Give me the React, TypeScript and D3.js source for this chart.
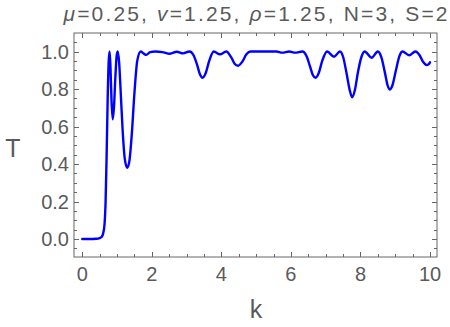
import React, { useEffect } from 'react';
import * as d3 from 'd3';

// curve (k -> T)
const kValues = [
  0, 0.2, 0.4, 0.5, 0.56, 0.6, 0.64, 0.67, 0.7, 0.73, 0.76, 0.785,
  0.81, 0.84, 0.875, 0.91, 0.95, 0.99, 1.02, 1.06, 1.1, 1.16, 1.22, 1.29,
  1.35, 1.42, 1.5, 1.58, 1.68, 1.76, 1.84, 1.95, 2.1, 2.3, 2.52, 2.72,
  2.9, 3.08, 3.2, 3.3, 3.38, 3.46, 3.55, 3.65, 3.78, 3.96, 4.14, 4.28,
  4.38, 4.48, 4.6, 4.72, 4.84, 5.2, 5.58, 5.75, 5.95, 6.12, 6.33, 6.45,
  6.55, 6.63, 6.71, 6.8, 6.9, 7.04, 7.24, 7.41, 7.5, 7.6, 7.69, 7.76,
  7.84, 7.93, 8.03, 8.12, 8.32, 8.5, 8.6, 8.7, 8.78, 8.84, 8.92, 9.02,
  9.12, 9.21, 9.4, 9.58, 9.7, 9.8, 9.9, 9.96, 10,
];
const tValues = [
  0, 0, 0.001, 0.005, 0.012, 0.03, 0.08, 0.2, 0.45, 0.75, 0.95, 1.0,
  0.92, 0.74, 0.638, 0.7, 0.86, 0.98, 1.0, 0.94, 0.8, 0.58, 0.43, 0.38,
  0.41, 0.55, 0.78, 0.95, 1.0, 0.99, 0.982, 0.997, 1.0, 0.997, 0.988, 0.999,
  0.99, 1.0, 0.98, 0.93, 0.88, 0.86, 0.885, 0.95, 1.0, 0.985, 1.0, 0.97,
  0.935, 0.924, 0.945, 0.985, 1.0, 1.0, 1.0, 0.994, 1.0, 0.994, 1.0, 0.975,
  0.92, 0.875, 0.86, 0.885, 0.95, 1.0, 0.972, 1.0, 0.972, 0.884, 0.795, 0.756,
  0.795, 0.892, 0.972, 1.0, 0.967, 1.0, 0.97, 0.89, 0.82, 0.797, 0.82, 0.9,
  0.975, 1.0, 0.98, 1.0, 0.98, 0.945, 0.928, 0.932, 0.942,
];

const xMajor = [0, 2, 4, 6, 8, 10];
const yMajor = [0, 0.2, 0.4, 0.6, 0.8, 1.0];

const W = 450;
const H = 327;
const frame = { left: 74, right: 437, top: 33, bottom: 257 };
const grey = '#666666';
const textGrey = '#5a5a5a';
const font = '"Liberation Sans", Arial, sans-serif';

export default function App() {
  useEffect(() => {
    document.body.style.margin = '0';
  }, []);

  const x = d3.scaleLinear().domain([0, 10]).range([82.3, 430]);
  const y = d3.scaleLinear().domain([0, 1]).range([239, 51.5]);

  const xMinor = x.ticks(20);
  const yMinor = d3.ticks(-0.05, 1.05, 22);

  const line = d3.line<number>()
    .x((d, i) => x(kValues[i]))
    .y(d => y(d))
    .curve(d3.curveMonotoneX);

  const tickLen = (major: boolean) => (major ? 5 : 3);
  const isMajorX = (v: number) => xMajor.some(m => Math.abs(m - v) < 1e-6);
  const isMajorY = (v: number) => yMajor.some(m => Math.abs(m - v) < 1e-6);

  return (
    <svg width={W} height={H} style={{ display: 'block', background: '#fff' }} fontFamily={font}>
      {/* title */}
      <text x={255.5} y={21} textAnchor="middle" fontSize={21} fill={textGrey}
        textLength={384} lengthAdjust="spacing">
        <tspan fontStyle="italic">μ</tspan>=0.25, <tspan fontStyle="italic">v</tspan>=1.25, <tspan fontStyle="italic">ρ</tspan>=1.25, N=3, S=2
      </text>

      {/* curve */}
      <path d={line(tValues) || ''} fill="none" stroke="#0000ff" strokeWidth={2.4}
        strokeLinejoin="round" strokeLinecap="round" />

      {/* frame */}
      <rect x={frame.left} y={frame.top} width={frame.right - frame.left}
        height={frame.bottom - frame.top} fill="none" stroke={grey} strokeWidth={1} />

      {/* x ticks, bottom and top */}
      {xMinor.map(v => {
        const L = tickLen(isMajorX(v));
        const px = Math.round(x(v)) + 0.5;
        return (
          <g key={'x' + v} stroke={grey}>
            <line x1={px} x2={px} y1={frame.bottom} y2={frame.bottom - L} />
            <line x1={px} x2={px} y1={frame.top} y2={frame.top + L} />
          </g>
        );
      })}
      {/* y ticks, left and right */}
      {yMinor.map(v => {
        const L = tickLen(isMajorY(v));
        const py = Math.round(y(v)) + 0.5;
        return (
          <g key={'y' + v} stroke={grey}>
            <line x1={frame.left} x2={frame.left + L} y1={py} y2={py} />
            <line x1={frame.right} x2={frame.right - L} y1={py} y2={py} />
          </g>
        );
      })}

      {/* tick labels */}
      {xMajor.map(v => (
        <text key={'xl' + v} x={x(v)} y={281} textAnchor="middle" fontSize={20} fill={textGrey}>
          {v}
        </text>
      ))}
      {yMajor.map(v => (
        <text key={'yl' + v} x={69} y={y(v) + 7} textAnchor="end" fontSize={20} fill={textGrey}>
          {v.toFixed(1)}
        </text>
      ))}

      {/* axis labels */}
      <text x={256} y={318} textAnchor="middle" fontSize={25} fill={textGrey}>k</text>
      <text x={13} y={157} textAnchor="middle" fontSize={25} fill={textGrey}>T</text>
    </svg>
  );
}
